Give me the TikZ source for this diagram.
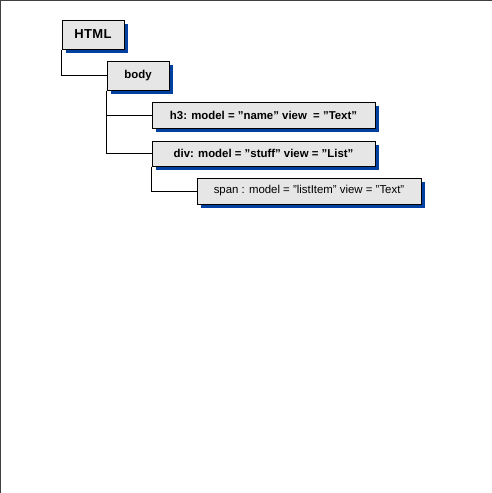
\documentclass[tikz,border=0pt]{standalone}
\usepackage{fontspec}
\setmainfont{Liberation Sans}
\usetikzlibrary{shadows}
\definecolor{boxgray}{HTML}{E6E6E6}
\definecolor{shadowblue}{HTML}{0040A0}
\definecolor{framegray}{HTML}{404040}
\tikzset{
  treebox/.style={draw=black, fill=boxgray, line width=1pt, inner sep=0pt,
    general shadow={fill=shadowblue, shadow xshift=4pt, shadow yshift=-4pt}},
  boldtext/.style={font=\bfseries\fontsize{11.4}{13}\selectfont},
  plaintext/.style={font=\fontsize{11.4}{13}\selectfont},
  link/.style={draw=black, line width=1pt}
}
\begin{document}
\begin{tikzpicture}[x=1pt, y=-1pt]
\useasboundingbox (0,0) rectangle (492,493);
\draw[framegray, line width=1.2pt] (0.6,493) -- (0.6,0.6) -- (492,0.6);
\node[treebox, minimum width=62pt, minimum height=29pt, font=\bfseries\fontsize{13}{15}\selectfont\addfontfeature{LetterSpace=3}] (html) at (93,34.5) {HTML};
\node[treebox, boldtext, minimum width=62pt, minimum height=29pt] (body) at (138,75.5) {body};
\node[treebox, boldtext, minimum width=223pt, minimum height=26pt] (h3) at (263.5,115) {h3: model = "name" view \ = "Text"};
\node[treebox, boldtext, minimum width=223pt, minimum height=25pt] (div) at (263.5,153.5) {div: model = "stuff" view = "List"};
\node[treebox, plaintext, minimum width=224pt, minimum height=26pt] (span) at (309,191) {span : model = "listItem" view = "Text"};
\draw[link] (html.south west) |- (body.west);
\draw[link] (body.south west) |- (h3.west);
\draw[link] (body.south west) |- (div.west);
\draw[link] (div.south west) |- (span.west);
\end{tikzpicture}
\end{document}
